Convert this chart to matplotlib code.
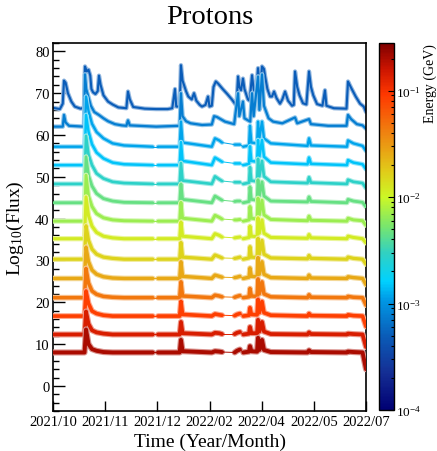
import numpy as np
import matplotlib
matplotlib.use("Agg")
import matplotlib.pyplot as plt
from matplotlib.colors import LinearSegmentedColormap, LogNorm, to_rgb
from matplotlib.cm import ScalarMappable
from matplotlib.ticker import MultipleLocator, FixedLocator, LogLocator, NullFormatter

plt.rcParams['font.family'] = ['Liberation Serif', 'DejaVu Serif']
plt.rcParams['mathtext.fontset'] = 'custom'
plt.rcParams['mathtext.rm'] = 'Liberation Serif'
plt.rcParams['mathtext.it'] = 'Liberation Serif:italic'
plt.rcParams['mathtext.bf'] = 'Liberation Serif:bold'

# ---------------- text ----------------
title = "Protons"
x_label = "Time (Year/Month)"
y_label = r"Log$_{10}$(Flux)"
cbar_label = "Energy (GeV)"
tick_labels = ["2021/10", "2021/11", "2021/12", "2022/02", "2022/04", "2022/05", "2022/07"]
day_span = 273  # days from 2021/10/01 to 2022/07/01

# ---------------- energies (GeV), one per curve, top curve first ----------------
energies = [4.9e-4, 7.6e-4, 1.17e-3, 1.48e-3, 2.8e-3, 4.6e-3, 6.8e-3,
            1.17e-2, 1.6e-2, 2.6e-2, 4.6e-2, 8.5e-2, 0.138, 0.204]

# ---------------- curve 1 ----------------
line1_days = [0, 6, 8.5, 9.6, 11, 13, 16, 19, 24, 27, 27.9, 29.5, 31, 32.5, 33.5, 35, 37, 39,
              40.1, 41.5, 44, 48, 52, 57, 64, 65.4, 67, 70, 80, 90, 100, 104, 106.4, 107.5,
              110.5, 111.6, 113, 116, 118, 121, 123, 125, 128, 130, 133, 135.2, 136.5, 138.5,
              140, 142, 144, 148, 152, 156, 160, 161.4, 162.5, 164, 165.7, 167, 170, 171.5,
              173.6, 175, 177, 178.8, 180, 181.5, 182.3, 184, 185, 187, 189.3, 191, 192.8, 195,
              198, 200, 202.4, 205, 208.5, 210, 211.1, 213, 215, 218, 221, 223.3, 225, 227,
              230.3, 235, 237.2, 238.5, 245, 256, 257.3, 260, 264, 267.8, 271, 273]
line1_vals = [66.5, 66.2, 67.5, 73.0, 72.5, 70.0, 68.0, 66.8, 66.3, 66.5, 76.4, 75.2, 75.6, 74.2,
              71.0, 70.2, 69.8, 70.5, 74.2, 72.0, 69.5, 68.0, 67.3, 66.6, 66.4, 70.4, 68.5, 66.7,
              66.3, 66.2, 66.2, 66.4, 71.0, 66.8, 66.8, 76.7, 73.0, 70.5, 69.2, 68.5, 70.0, 68.2,
              67.2, 66.8, 67.2, 69.2, 66.8, 67.0, 71.5, 72.8, 72.3, 71.0, 69.8, 68.5, 67.0, 74.0,
              71.5, 70.7, 73.5, 71.0, 68.5, 68.2, 74.3, 71.0, 69.5, 76.0, 72.0, 73.5, 76.4, 75.8,
              74.0, 71.0, 69.2, 69.2, 70.4, 68.8, 67.5, 68.5, 70.4, 68.2, 67.0, 67.2, 75.2, 71.5,
              69.5, 67.6, 67.3, 75.2, 71.5, 69.5, 67.4, 67.0, 70.7, 67.0, 66.4, 66.3, 72.8, 71.3,
              69.2, 67.5, 66.8, 65.5]

# ---------------- curve 2 ----------------
line2_days = [0, 8.5, 9.6, 11, 14, 27, 27.9, 29, 31, 33, 36, 40, 44, 48, 54, 60, 64, 65.4, 67,
              90, 110.5, 111.6, 113, 116, 120, 130, 138.5, 140.5, 143, 150, 158, 161.4, 162.5,
              165.7, 167, 172, 173.6, 175, 178.8, 180, 182.3, 184, 188, 192, 200, 211.1, 213,
              223.3, 225, 240, 256, 257.3, 260, 265, 270, 273]
line2_vals = [62.0, 62.0, 64.8, 63.0, 62.2, 62.0, 74.5, 71.0, 69.0, 67.0, 65.5, 64.8, 64.0, 63.3,
              62.6, 62.3, 62.2, 63.5, 62.3, 62.0, 62.2, 70.0, 64.5, 63.3, 62.8, 62.4, 62.5, 64.5,
              64.3, 63.2, 62.6, 70.0, 64.5, 68.0, 64.0, 63.2, 70.0, 64.5, 74.0, 66.0, 74.5, 67.0,
              64.0, 63.2, 62.8, 64.2, 62.8, 63.8, 62.6, 62.2, 62.2, 64.8, 63.8, 62.6, 62.3, 61.5]

# ---------------- curves 3-14 (shared sampling days) ----------------
common_days = [0, 27.5, 28.8, 31, 34, 38, 44, 52, 62, 87, 91.6, 110.5, 111.6, 113, 138.5, 141.3,
               145, 147.4, 158.5, 160.5, 163, 166, 171, 171.8, 173, 178, 178.8, 180, 182.3, 184,
               190, 222, 223.3, 225, 256.4, 257.3, 262, 270, 273]
line3_vals = [57.2, 57.2, 69.2, 65.7, 62.7, 60.7, 59.2, 58.0, 57.5, 57.2, 57.2, 57.2, 63.2, 58.2,
              57.2, 59.2, 58.7, 58.2, 57.7, 57.7, 57.7, 57.2, 57.5, 62.2, 58.2, 58.0, 63.2, 59.2,
              63.2, 59.2, 58.0, 57.4, 59.2, 57.5, 57.2, 58.7, 58.0, 57.4, 56.2]
line4_vals = [52.8, 52.8, 64.8, 60.8, 57.8, 55.8, 54.4, 53.4, 53.0, 52.8, 52.8, 52.8, 58.3, 53.8,
              52.8, 54.6, 54.0, 53.6, 53.2, 53.2, 53.2, 52.8, 53.1, 57.3, 53.8, 53.6, 58.8, 54.8,
              58.8, 54.8, 53.4, 53.0, 54.6, 53.1, 52.8, 54.0, 53.4, 53.0, 51.8]
line5_vals = [48.3, 48.3, 59.8, 55.3, 52.8, 50.8, 49.6, 48.8, 48.5, 48.3, 48.3, 48.3, 53.3, 49.1,
              48.3, 50.1, 49.4, 49.0, 48.7, 48.7, 48.7, 48.3, 48.6, 52.3, 49.1, 48.9, 54.3, 50.1,
              53.8, 50.1, 48.8, 48.5, 49.9, 48.6, 48.3, 49.3, 48.8, 48.5, 47.3]
line6_vals = [43.8, 43.8, 54.8, 50.3, 47.8, 46.0, 44.8, 44.2, 43.9, 43.8, 43.8, 43.8, 48.3, 44.6,
              43.8, 45.4, 44.8, 44.4, 44.1, 44.2, 44.2, 43.8, 44.1, 47.6, 44.6, 44.4, 49.3, 45.4,
              48.8, 45.4, 44.2, 44.0, 45.2, 44.1, 43.8, 44.6, 44.2, 43.9, 42.8]
line7_vals = [39.4, 39.4, 50.4, 45.4, 42.9, 41.2, 40.2, 39.7, 39.5, 39.4, 39.4, 39.4, 43.9, 40.1,
              39.4, 40.8, 40.3, 39.9, 39.7, 39.7, 39.8, 39.4, 39.7, 42.9, 40.1, 39.9, 44.9, 40.9,
              44.4, 40.9, 39.8, 39.5, 40.6, 39.6, 39.4, 40.1, 39.7, 39.5, 38.4]
line8_vals = [35.2, 35.2, 45.2, 40.7, 38.2, 36.7, 35.8, 35.4, 35.2, 35.2, 35.2, 35.2, 39.2, 35.8,
              35.2, 36.4, 36.0, 35.6, 35.4, 35.5, 35.6, 35.2, 35.5, 38.2, 35.8, 35.7, 40.2, 36.5,
              39.7, 36.5, 35.5, 35.3, 36.2, 35.4, 35.2, 35.8, 35.5, 35.2, 34.2]
line9_vals = [30.3, 30.3, 38.3, 34.8, 32.7, 31.5, 30.8, 30.5, 30.3, 30.3, 30.3, 30.3, 34.3, 30.8,
              30.3, 31.3, 30.9, 30.6, 30.5, 30.6, 30.8, 30.3, 30.6, 33.3, 30.8, 30.7, 35.3, 31.5,
              34.8, 31.5, 30.6, 30.4, 31.2, 30.5, 30.3, 30.8, 30.5, 30.3, 29.1]
line10_vals = [25.7, 25.7, 33.2, 29.7, 27.7, 26.7, 26.1, 25.8, 25.7, 25.7, 25.7, 25.7, 29.7, 26.2,
               25.7, 26.5, 26.2, 26.0, 25.9, 26.0, 26.2, 25.7, 26.0, 28.2, 26.2, 26.1, 30.7, 26.7,
               29.7, 26.7, 25.9, 25.7, 26.5, 25.8, 25.7, 26.1, 25.9, 25.7, 24.2]
line11_vals = [21.1, 21.1, 28.1, 24.6, 22.7, 21.9, 21.4, 21.2, 21.1, 21.1, 21.1, 21.1, 24.9, 21.5,
               21.1, 21.7, 21.5, 21.3, 21.2, 21.4, 21.6, 21.1, 21.3, 23.3, 21.5, 21.4, 25.6, 22.0,
               24.9, 22.0, 21.3, 21.1, 21.8, 21.2, 21.1, 21.4, 21.2, 21.1, 19.3]
line12_vals = [16.7, 16.7, 22.7, 19.7, 17.9, 17.3, 16.9, 16.7, 16.7, 16.7, 16.7, 16.7, 20.2, 17.1,
               16.7, 17.2, 17.0, 16.9, 16.8, 17.1, 17.3, 16.7, 16.9, 18.7, 17.1, 17.0, 20.7, 17.5,
               20.2, 17.5, 16.9, 16.7, 17.3, 16.8, 16.7, 17.0, 16.8, 16.7, 14.2]
line13_vals = [12.3, 12.3, 17.8, 14.8, 13.3, 12.8, 12.5, 12.3, 12.3, 12.3, 12.3, 12.3, 15.3, 12.6,
               12.3, 12.7, 12.6, 12.4, 12.4, 12.7, 12.9, 12.3, 12.5, 14.1, 12.6, 12.6, 15.8, 13.0,
               15.3, 13.0, 12.4, 12.3, 12.8, 12.4, 12.3, 12.5, 12.4, 12.3, 9.3]
line14_vals = [8.0, 8.0, 13.5, 10.0, 8.8, 8.4, 8.1, 8.0, 8.0, 8.0, 8.0, 8.0, 11.0, 8.3,
               8.0, 8.3, 8.2, 8.1, 8.0, 8.4, 8.7, 8.0, 8.2, 9.5, 8.3, 8.2, 11.5, 8.6,
               11.0, 8.6, 8.1, 8.0, 8.5, 8.1, 8.0, 8.2, 8.1, 8.0, 4.0]

# data gaps (start day, end day) in curves 3-14
gaps = [(87, 91.6), (147.4, 158.5), (163, 166)]

series = [(line1_days, line1_vals, False), (line2_days, line2_vals, False)] + [
    (common_days, v, True) for v in
    [line3_vals, line4_vals, line5_vals, line6_vals, line7_vals, line8_vals, line9_vals,
     line10_vals, line11_vals, line12_vals, line13_vals, line14_vals]]

# ---------------- colormap (rainbow palette like the reference) ----------------
cmap = LinearSegmentedColormap.from_list("rainbow_root", [
    (0.00, (0.00, 0.00, 0.45)),
    (0.10, (0.08, 0.18, 0.58)),
    (0.20, (0.04, 0.36, 0.72)),
    (0.30, (0.00, 0.60, 0.90)),
    (0.35, (0.00, 0.82, 1.00)),
    (0.43, (0.20, 0.82, 0.75)),
    (0.50, (0.47, 0.90, 0.43)),
    (0.58, (0.80, 0.97, 0.15)),
    (0.65, (0.88, 0.80, 0.10)),
    (0.76, (0.94, 0.50, 0.06)),
    (0.86, (1.00, 0.22, 0.00)),
    (0.93, (0.80, 0.08, 0.00)),
    (1.00, (0.50, 0.00, 0.00)),
])
norm = LogNorm(vmin=1e-4, vmax=0.28)

# ---------------- figure ----------------
W, H = 437, 452
fig = plt.figure(figsize=(W / 100, H / 100), dpi=100)
ax = fig.add_axes([53 / W, 1 - 412 / H, 313 / W, 368 / H])
cax = fig.add_axes([379 / W, 1 - 411 / H, 15 / W, 367 / H])

n = len(series)
for i, ((xd, yd, gapped), e) in enumerate(zip(series, energies)):
    col = np.array(to_rgb(cmap(norm(e))))
    light = 0.45 * col + 0.55
    core_w = 1.5 + 1.3 * i / (n - 1)
    fringe_w = core_w + 1.6
    xs, ys, gx, gy = [], [], [], []
    for k in range(len(xd)):
        xs.append(xd[k]); ys.append(yd[k])
        if k < len(xd) - 1 and gapped and any(abs(xd[k] - a) < 1e-6 and abs(xd[k + 1] - b) < 1e-6 for a, b in gaps):
            xs.append(np.nan); ys.append(np.nan)
            gx.append([xd[k], xd[k + 1]]); gy.append([yd[k], yd[k + 1]])
    z = 2 + i * 0.1
    ax.plot(xs, ys, color=light, lw=fringe_w, solid_joinstyle='round', solid_capstyle='round', zorder=z)
    ax.plot(xs, ys, color=col, lw=core_w, solid_joinstyle='round', solid_capstyle='round', zorder=z + 0.05)
    for a, b in zip(gx, gy):
        ax.plot(a, b, color=col, lw=0.7, zorder=z)

ax.set_xlim(0, day_span)
ax.set_ylim(-6, 82)
ax.xaxis.set_major_locator(FixedLocator(np.linspace(0, day_span, len(tick_labels))))
ax.set_xticklabels(tick_labels)
ax.yaxis.set_major_locator(MultipleLocator(10))
ax.yaxis.set_minor_locator(MultipleLocator(2))
ax.tick_params(axis='x', which='major', direction='in', length=7.2, width=1.0, labelsize=10.5,
               pad=3, top=False)
ax.tick_params(axis='y', which='major', direction='in', length=8.6, width=1.0, labelsize=10.5,
               pad=2.5, right=False)
ax.tick_params(axis='y', which='minor', direction='in', length=4.3, width=1.0, right=False)
for s in ax.spines.values():
    s.set_linewidth(1.2)

ax.set_xlabel(x_label, fontsize=14, labelpad=3)
ax.set_ylabel(y_label, fontsize=14)
ax.yaxis.set_label_coords(-0.085, 0.5)
fig.text(209.5 / W, 1 - 18 / H, title, ha='center', va='center', fontsize=20.5)

sm = ScalarMappable(norm=norm, cmap=cmap)
cb = fig.colorbar(sm, cax=cax)
cb.outline.set_linewidth(1.0)
cax.yaxis.set_ticks_position('right')
cax.yaxis.set_major_locator(LogLocator(base=10, numticks=10))
cax.yaxis.set_minor_locator(LogLocator(base=10, subs=np.arange(2, 10), numticks=20))
cax.yaxis.set_minor_formatter(NullFormatter())
cax.tick_params(which='major', direction='in', length=4, width=0.8, labelsize=9.5, pad=1.5)
cax.tick_params(which='minor', direction='in', length=2, width=0.8)
fig.text(430 / W, 1 - 44 / H, cbar_label, rotation=90, ha='center', va='top', fontsize=10)

fig.savefig("out.png", dpi=100)
